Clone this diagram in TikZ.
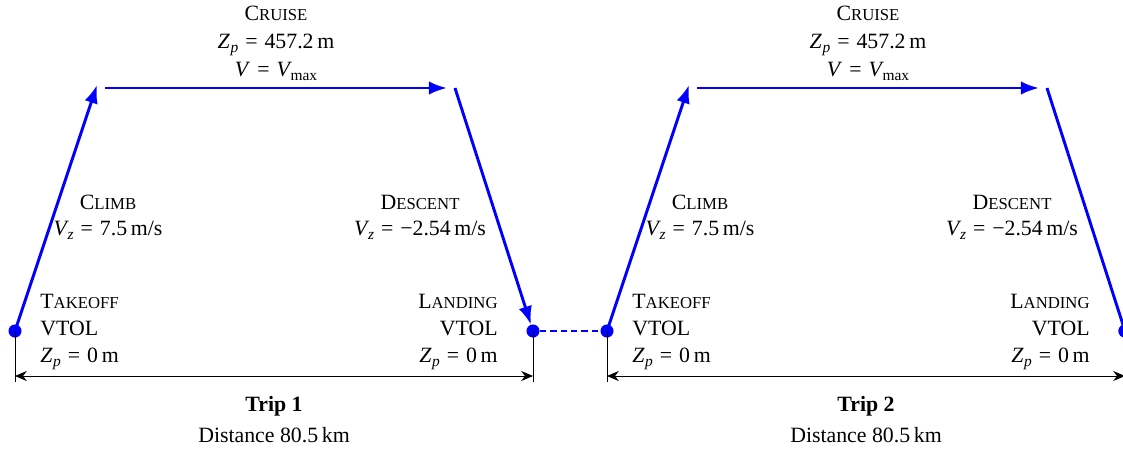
\documentclass[tikz,border=0pt]{standalone}
\usepackage{fontspec}
\setmainfont{Liberation Serif}
\usetikzlibrary{arrows.meta}
\newcommand{\fsc}[2]{#1{\fontsize{9.2pt}{10pt}\selectfont #2}}
\newcommand{\lowsub}[1]{\raisebox{-0.45ex}{\fontsize{8.5pt}{9pt}\selectfont #1}}
\newcommand{\Zp}{\textit{Z}\kern0.3pt\lowsub{\textit{p}}}
\newcommand{\Vz}{\textit{V}\kern-0.8pt\lowsub{\textit{z}}}
\newcommand{\Vmax}{\textit{V}\kern-0.8pt\lowsub{max}}
\newcommand{\eq}{\hspace{0.32em}=\hspace{0.32em}}
\definecolor{pblue}{RGB}{0,0,255}
\begin{document}
\begin{tikzpicture}[x=0.55pt,y=-0.55pt,
  seg/.style={draw=pblue,line width=1.6pt},
  segarr/.style={seg,-{Latex[length=10pt,width=7.5pt]}},
  dot/.style={circle,fill=pblue,inner sep=0pt,minimum size=7.2pt},
  dimline/.style={draw=black,line width=0.45pt},
  dimarr/.style={draw=black,line width=0.45pt,{Stealth[length=6.5pt,width=5.5pt]}-{Stealth[length=6.5pt,width=5.5pt]}},
  txt/.style={inner sep=0pt,font=\fontsize{12pt}{14pt}\selectfont},
  lb/.style={txt,anchor=base west},
  rb/.style={txt,anchor=base east},
  cb/.style={txt,anchor=base}]
\useasboundingbox (0,0) rectangle (1123,450);
\foreach \t/\dx/\n in {1/0/1,2/592/2}{
  \begin{scope}[xshift=\dx*0.55pt]
  \node[dot] (to\t) at (15,331) {};
  \node[dot] (la\t) at (533,331) {};
  \coordinate (ct\t) at (97,85);
  \coordinate (cs\t) at (105,88);
  \coordinate (ce\t) at (447,88);
  \coordinate (ds\t) at (455,88);
  \coordinate (tb\t) at (15,382);
  \coordinate (lb\t) at (533,382);
  \coordinate (ta\t) at (15,376);
  \coordinate (laa\t) at (533,376);
  \draw[segarr] (to\t.center) -- (ct\t);
  \draw[segarr] (cs\t) -- (ce\t);
  \draw[dimline] (to\t.center) -- (tb\t);
  \draw[dimline] (la\t.center) -- (lb\t);
  \draw[dimarr] (ta\t) -- (laa\t);
  % texts
  \node[cb] (cr\t) at (276,20) {\fsc{C}{RUISE}};
  \node[cb] (crz\t) at (276,48) {\Zp\eq457.2\,m};
  \node[cb] (crv\t) at (276,76) {\textit{V}\eq\Vmax};
  \node[cb] (cl\t) at (108,209) {\fsc{C}{LIMB}};
  \node[cb] (clv\t) at (108,235) {\Vz\eq7.5\,m/s};
  \node[cb] (de\t) at (420,209) {\fsc{D}{ESCENT}};
  \node[cb] (dev\t) at (420,235) {\Vz\eq−2.54\,m/s};
  \node[lb] (tk\t) at (40,308) {\fsc{T}{AKEOFF}};
  \node[lb] (tkv\t) at (40,335) {VTOL};
  \node[lb] (tkz\t) at (40,362) {\Zp\eq0\,m};
  \node[rb] (ld\t) at (498,308) {\fsc{L}{ANDING}};
  \node[rb] (ldv\t) at (498,335) {VTOL};
  \node[rb] (ldz\t) at (498,362) {\Zp\eq0\,m};
  \node[cb] (tr\t) at (274,411) {\textbf{Trip \n}};
  \node[cb] (di\t) at (274,442) {Distance 80.5\,km};
  \end{scope}
}
\draw[segarr] (ds1) -- (la1);
\draw[seg] (ds2) -- (la2.center);
\draw[seg,dash pattern=on 3.5pt off 2.2pt] (la1) -- (to2);
\node[dot] at (la2) {};
\end{tikzpicture}
\end{document}
